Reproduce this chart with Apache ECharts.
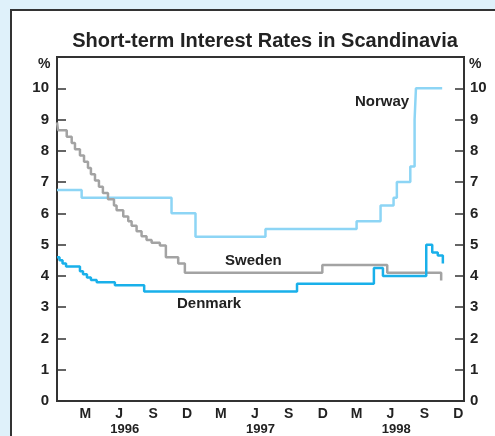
<!DOCTYPE html>
<html>
<head>
<meta charset="utf-8">
<script src="https://cdn.jsdelivr.net/npm/echarts@6/dist/echarts.min.js"></script>
<style>
  html, body { margin: 0; padding: 0; background: #dff1fa; }
  .panel { position: absolute; left: 10px; top: 9px; width: 500px; height: 450px; background: #fff; border: 2px solid #333; box-sizing: border-box; }
  #chart { position: absolute; left: 0; top: 0; width: 495px; height: 436px; }
</style>
</head>
<body>
<div class="panel"></div>
<div id="chart"></div>
<script>
// months since Jan 1996 (0 = 1 Jan 1996, 36 = 1 Jan 1999)
const months = ['J','F','M','A','M','J','J','A','S','O','N','D',
                'J','F','M','A','M','J','J','A','S','O','N','D',
                'J','F','M','A','M','J','J','A','S','O','N','D']
const shownMonths = [2, 5, 8, 11, 14, 17, 20, 23, 26, 29, 32, 35]
const years = ['1996', '1997', '1998']

// [month, rate] pairs, each rate holds until the next month value
const norway = [
  [0, 6.75], [2.18, 6.5], [10.13, 6.0], [12.25, 5.25], [18.44, 5.5],
  [26.5, 5.75], [28.62, 6.25], [29.77, 6.5], [30.06, 7.0], [31.25, 7.5],
  [31.63, 9.0], [31.75, 10.0], [34.07, 10.0]
]
const sweden = [
  [0, 8.91], [0.09, 8.66], [0.86, 8.45], [1.3, 8.25], [1.59, 8.05],
  [2.03, 7.85], [2.39, 7.65], [2.74, 7.45], [3.0, 7.25], [3.36, 7.05],
  [3.71, 6.85], [4.06, 6.65], [4.51, 6.45], [5.04, 6.25], [5.27, 6.1],
  [5.86, 5.9], [6.3, 5.75], [6.6, 5.6], [7.04, 5.43], [7.48, 5.27],
  [7.92, 5.15], [8.37, 5.06], [9.1, 4.97], [9.63, 4.6], [10.72, 4.4],
  [11.31, 4.1], [23.47, 4.35], [29.21, 4.1], [33.98, 3.85]
]
const denmark = [
  [0, 4.6], [0.22, 4.5], [0.49, 4.4], [0.8, 4.3], [2.03, 4.15],
  [2.3, 4.05], [2.65, 3.95], [3.0, 3.87], [3.51, 3.8], [5.12, 3.7],
  [7.71, 3.5], [21.23, 3.75], [28.03, 4.25], [28.83, 4.0], [32.66, 5.0],
  [33.19, 4.75], [33.68, 4.65], [34.13, 4.4]
]

const yAxisCommon = {
  type: 'value',
  min: 0,
  max: 11,
  interval: 1,
  axisLine: { show: true, lineStyle: { color: '#333', width: 2 } },
  axisTick: { show: true, inside: true, length: 9, lineStyle: { color: '#333', width: 1.5 } },
  axisLabel: {
    color: '#222', fontWeight: 'bold', fontSize: 15, fontFamily: 'Liberation Sans',
    formatter: v => (v === 11 ? '' : v)
  },
  splitLine: { show: false }
}

const lineSeries = (name, data, color) => ({
  name: name,
  type: 'line',
  xAxisIndex: 2,
  step: 'end',
  symbol: 'none',
  data: data,
  lineStyle: { color: color, width: 2.5 }
})

const labelFont = 'bold 15px Liberation Sans'

const chart = echarts.init(document.getElementById('chart'))
chart.setOption({
  animation: false,
  textStyle: { fontFamily: 'Liberation Sans' },
  title: {
    text: 'Short-term Interest Rates in Scandinavia',
    left: 260,
    textAlign: 'center',
    top: 26,
    textStyle: { fontSize: 20, fontWeight: 'bold', color: '#222', fontFamily: 'Liberation Sans' }
  },
  grid: { left: 57, right: 31, top: 57, bottom: 33, show: true, borderColor: '#333', borderWidth: 2 },
  xAxis: [
    {
      type: 'category',
      data: months,
      boundaryGap: true,
      axisLine: { lineStyle: { color: '#333', width: 2 } },
      axisTick: { inside: true, length: 6, interval: 0, lineStyle: { color: '#333', width: 1.2 } },
      axisLabel: {
        interval: 0, margin: 6, color: '#222', fontWeight: 'bold', fontSize: 14,
        formatter: (v, i) => (shownMonths.includes(i) ? v : '')
      }
    },
    {
      type: 'category',
      data: years,
      position: 'bottom',
      axisLine: { show: false },
      axisTick: { show: false },
      axisLabel: { margin: 22, color: '#222', fontWeight: 'bold', fontSize: 13 }
    },
    { type: 'value', min: 0, max: 36, show: false }
  ],
  yAxis: [
    Object.assign({}, yAxisCommon, { position: 'left', axisLabel: Object.assign({}, yAxisCommon.axisLabel, { margin: 8 }) }),
    Object.assign({}, yAxisCommon, { position: 'right', axisLabel: Object.assign({}, yAxisCommon.axisLabel, { margin: 6 }) })
  ],
  series: [
    lineSeries('Norway', norway, '#8dd5f5'),
    lineSeries('Sweden', sweden, '#a3a3a3'),
    lineSeries('Denmark', denmark, '#19b0ea')
  ],
  graphic: [
    { type: 'text', left: 38, top: 57, style: { text: '%', font: 'bold 14px Liberation Sans', fill: '#222' } },
    { type: 'text', left: 469, top: 57, style: { text: '%', font: 'bold 14px Liberation Sans', fill: '#222' } },
    { type: 'text', left: 355, top: 94, style: { text: 'Norway', font: labelFont, fill: '#222' } },
    { type: 'text', left: 225, top: 253, style: { text: 'Sweden', font: labelFont, fill: '#222' } },
    { type: 'text', left: 177, top: 296, style: { text: 'Denmark', font: labelFont, fill: '#222' } }
  ]
})
</script>
</body>
</html>
